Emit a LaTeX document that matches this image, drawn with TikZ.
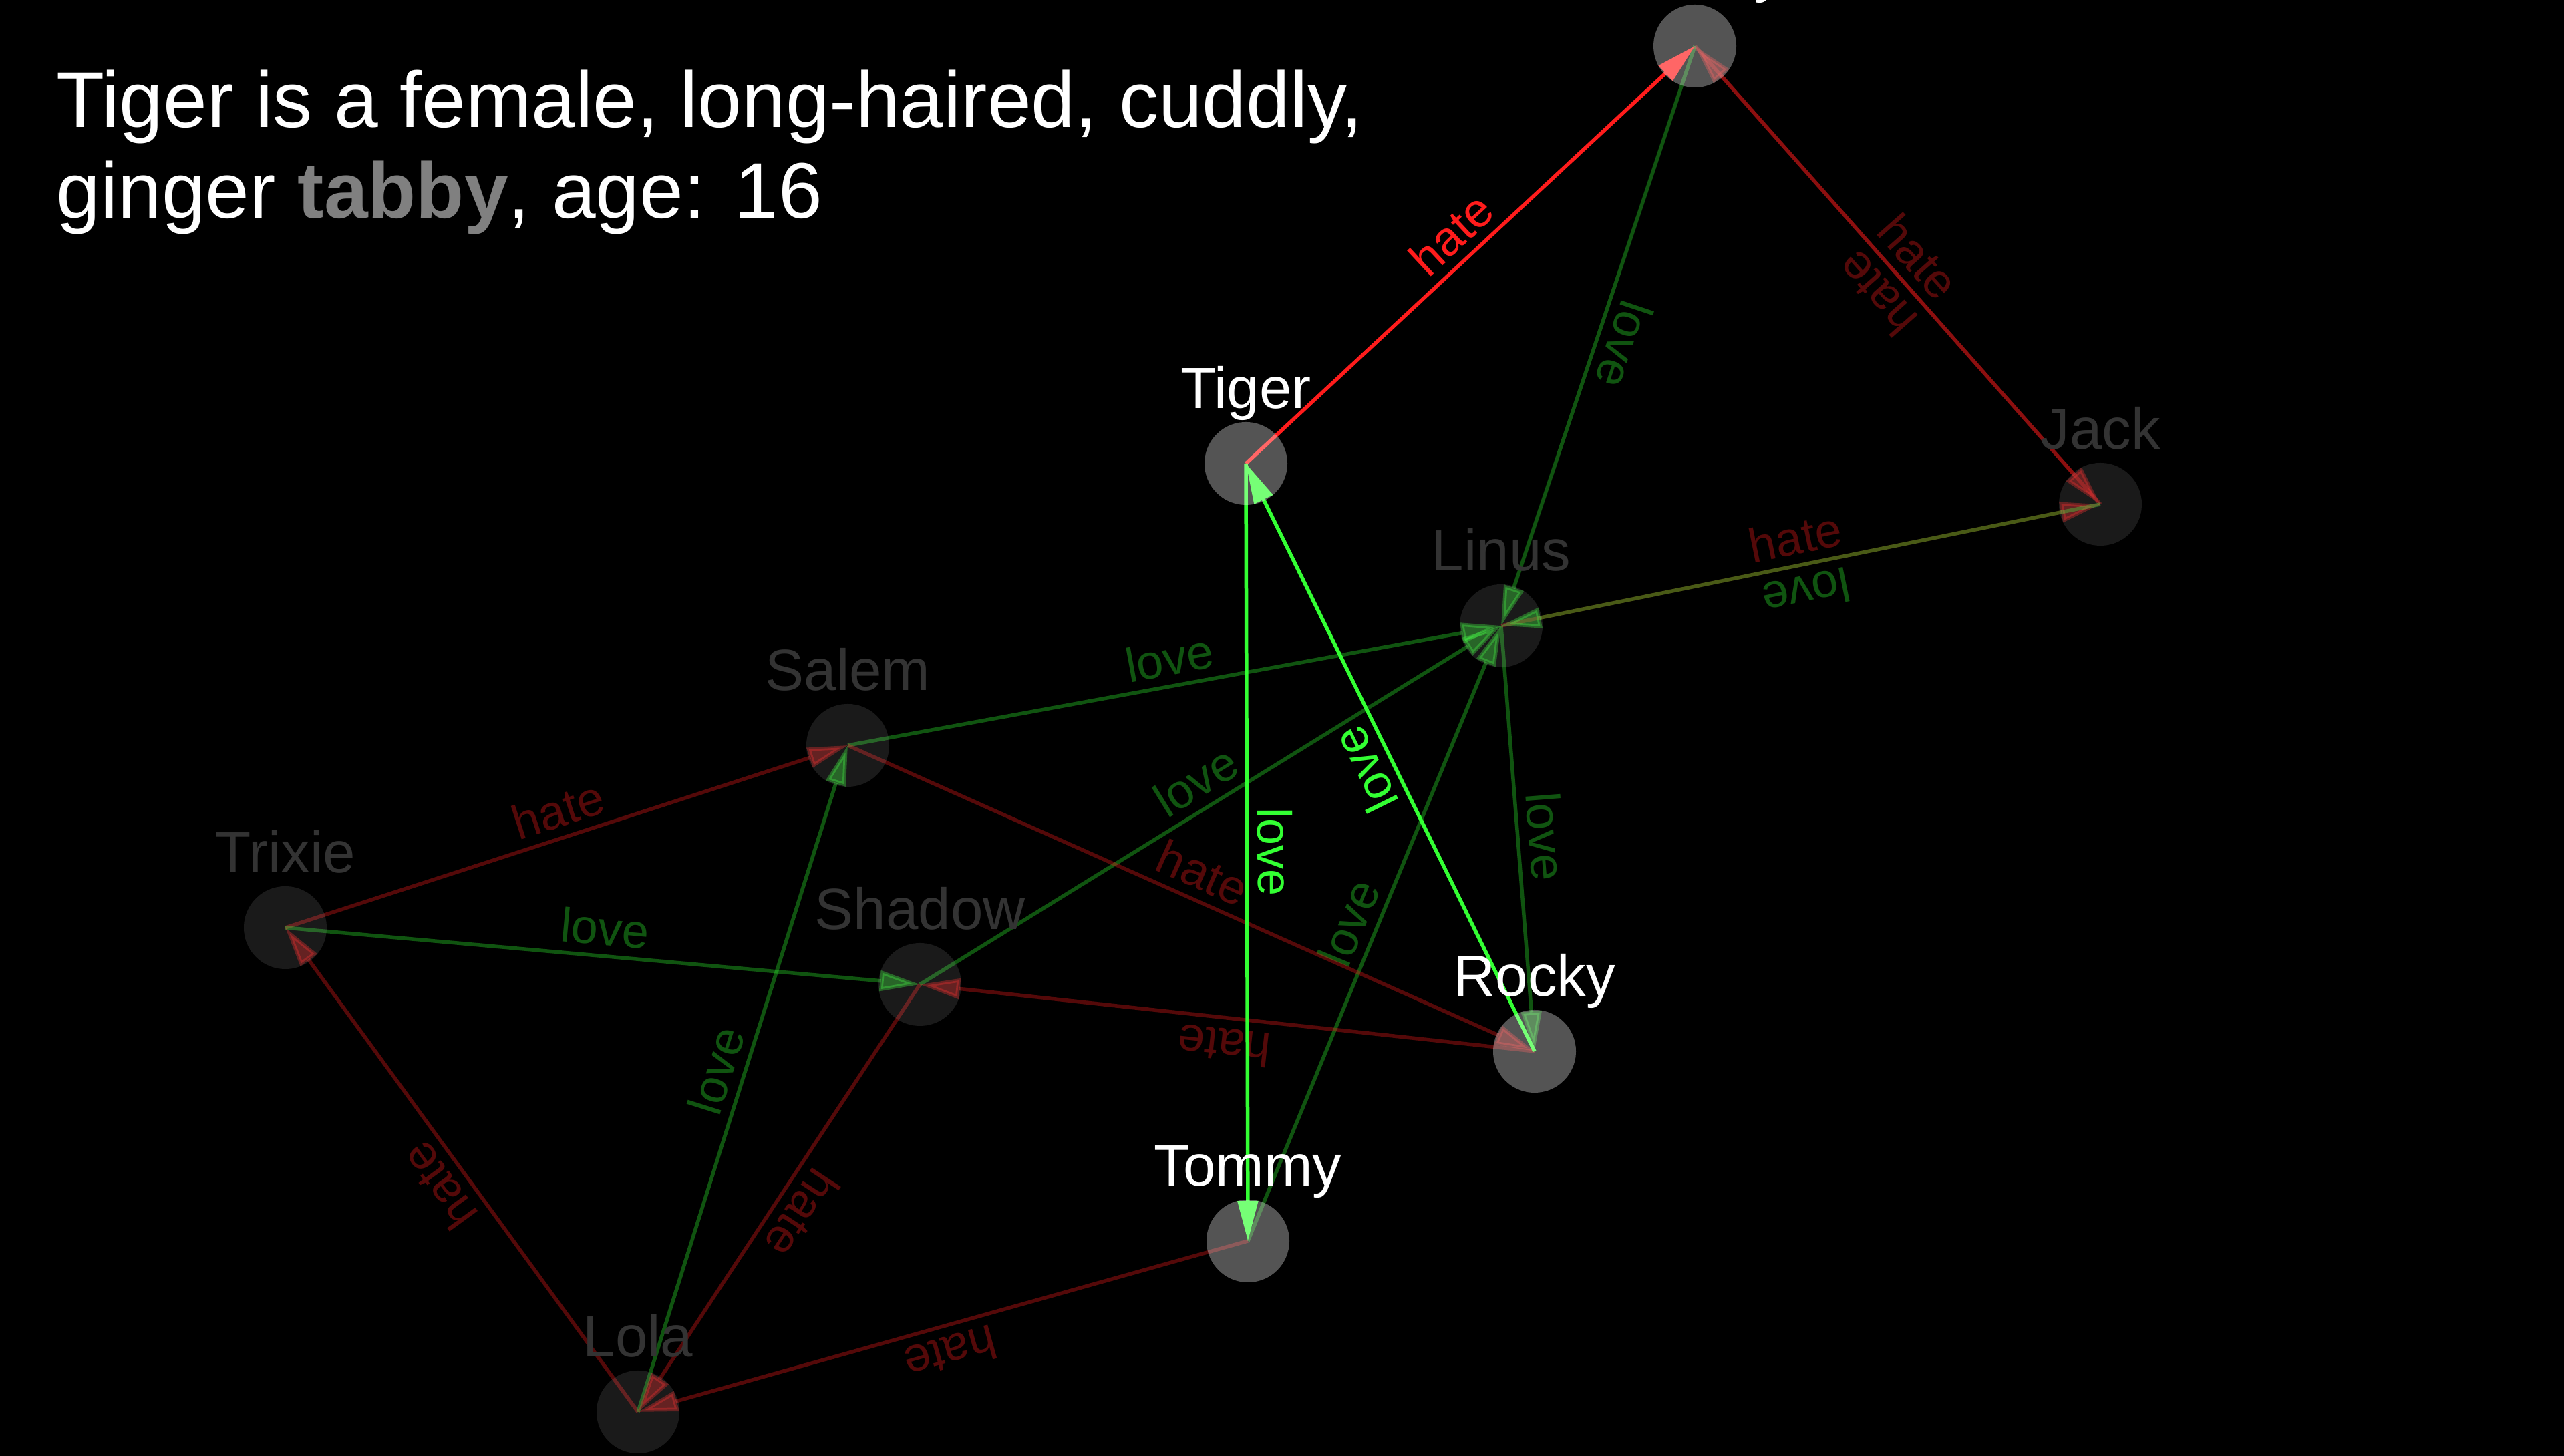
\documentclass[tikz,border=0pt]{standalone}
\usepackage{fontspec}
\setmainfont{Liberation Sans}
\usetikzlibrary{arrows.meta,positioning}

\definecolor{hatered}{RGB}{255,28,28}
\definecolor{lovegreen}{RGB}{51,255,51}

\pgfdeclarelayer{back}
\pgfdeclarelayer{edges}
\pgfsetlayers{back,edges,main}

\tikzset{
  cat/.style={circle, minimum size=1.24cm, inner sep=0pt, outer sep=0pt, fill=white},
  cat on/.style={cat, fill opacity=0.33},
  cat off/.style={cat, fill opacity=0.1},
  catname/.style={anchor=base, inner sep=0pt, font=\fontsize{24.8}{28}\selectfont},
  catname on/.style={catname, text=white},
  catname off/.style={catname, text=white!20!black},
  rel/.style={line width=0.055cm, -{Triangle[length=0.6cm, width=0.3cm]}},
  rel on/.style={rel},
  rel off/.style={rel, opacity=0.33},
  hate/.style={color=hatered},
  love/.style={color=lovegreen},
  rellabel/.style={midway, sloped, allow upside down, above, inner sep=0.13cm,
    font=\fontsize{20.5}{24}\selectfont},
}

\begin{document}
\begin{tikzpicture}[x=1cm, y=1cm]

\useasboundingbox (0,0) rectangle (38.38,21.80);
\begin{pgfonlayer}{back}
  \fill[black] (0,0) rectangle (38.38,21.80);
\end{pgfonlayer}

% cats
\foreach \n/\x/\y/\s in {smoky/25.37/21.11/on, jack/31.44/14.25/off,
    tiger/18.65/14.86/on, linus/22.47/12.43/off, salem/12.69/10.64/off,
    trixie/4.27/7.91/off, shadow/13.77/7.06/off, rocky/22.97/6.06/on,
    tommy/18.68/3.22/on, lola/9.55/0.66/off}
  \node [cat \s] (\n) at (\x,\y) {};

\foreach \n/\t/\s in {smoky/Smoky/on, jack/Jack/off, tiger/Tiger/on,
    linus/Linus/off, salem/Salem/off, trixie/Trixie/off, shadow/Shadow/off,
    rocky/Rocky/on, tommy/Tommy/on, lola/Lola/off}
  \node [catname \s] (\n-name) at ([yshift=0.82cm]\n.center) {\t};

% relations, dim ones first
\begin{pgfonlayer}{edges}
\foreach \a/\b/\r/\s in {smoky/jack/hate/off, jack/smoky/hate/off,
    smoky/linus/love/off, linus/jack/hate/off, jack/linus/love/off,
    salem/linus/love/off, shadow/linus/love/off, tommy/linus/love/off,
    linus/rocky/love/off, salem/rocky/hate/off, rocky/shadow/hate/off,
    trixie/salem/hate/off, trixie/shadow/love/off, lola/trixie/hate/off,
    lola/salem/love/off, shadow/lola/hate/off, tommy/lola/hate/off,
    tiger/smoky/hate/on, tiger/tommy/love/on, rocky/tiger/love/on}
  \draw [rel \s, \r] (\a.center) -- (\b.center)
    node [rellabel] {\r};
\end{pgfonlayer}

\node [anchor=base west, align=left, inner sep=0pt, text=white,
  font=\fontsize{33.6}{38.7}\selectfont] (info) at (0.84,18.53)
  {Tiger is a female, long-haired, cuddly,\\
   ginger \textcolor{white!50!black}{\bfseries tabby}, age: 16};

\end{tikzpicture}
\end{document}
